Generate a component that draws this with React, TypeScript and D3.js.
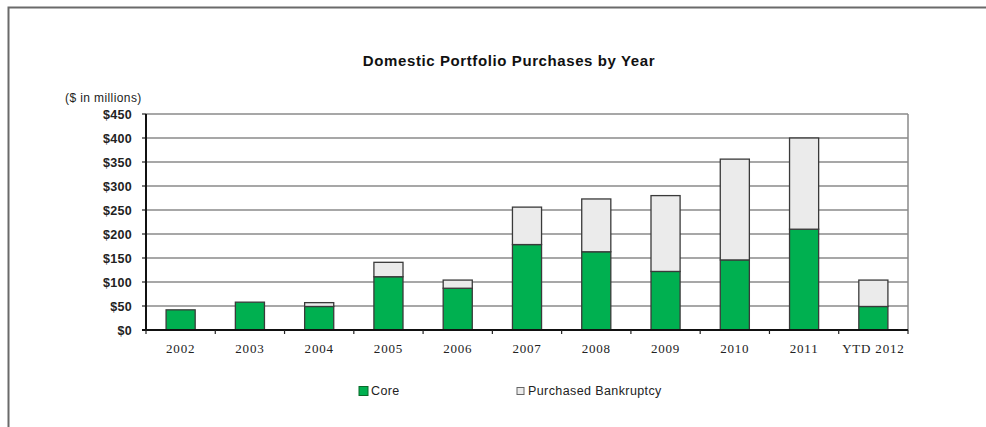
import React from "react";
import * as d3 from "d3";

const categories = ["2002", "2003", "2004", "2005", "2006", "2007", "2008", "2009", "2010", "2011", "YTD 2012"];
const coreValues = [42, 58, 49, 111, 87, 178, 163, 122, 146, 210, 49];
const bankruptcyValues = [0, 0, 8, 30, 17, 78, 110, 158, 210, 190, 55];
const yTicks = [0, 50, 100, 150, 200, 250, 300, 350, 400, 450];
const seriesNames = ["Core", "Purchased Bankruptcy"];
const seriesColors = ["#00b050", "#ebebeb"];

const W = 986;
const H = 427;
const plot = { left: 146, right: 908, top: 114, bottom: 330 };
const sans = "Liberation Sans, Arial, sans-serif";

export default function App() {
  const x = d3.scaleBand<string>().domain(categories).range([plot.left, plot.right]).paddingInner(0.58).paddingOuter(0.29);
  const y = d3.scaleLinear().domain([0, 450]).range([plot.bottom, plot.top]);
  const band = d3.scaleBand<string>().domain(categories).range([plot.left, plot.right]);

  const rows = categories.map((c, i) => ({ cat: c, core: coreValues[i], pb: bankruptcyValues[i] }));
  const stack = d3.stack<any>().keys(["core", "pb"])(rows);

  return (
    <div style={{ position: "absolute", left: 0, top: 0 }}>
      <svg width={W} height={H} style={{ display: "block", background: "#fff" }}>
        <rect x={8.5} y={7.5} width={W} height={H} fill="#fff" stroke="#6a6a6a" strokeWidth={2} />
        <text x={509} y={66} textAnchor="middle" fontFamily={sans} fontWeight="bold" fontSize={15} letterSpacing={0.6} fill="#111">
          Domestic Portfolio Purchases by Year
        </text>
        <text x={65} y={101.5} fontFamily={sans} fontSize={12} letterSpacing={0.4} fill="#222">
          ($ in millions)
        </text>
        {yTicks.map((t) => (
          <g key={t}>
            {t > 0 && (
              <line x1={plot.left} x2={plot.right} y1={y(t)} y2={y(t)} stroke="#8a8a8a" strokeWidth={1.5} />
            )}
            <line x1={plot.left - 4} x2={plot.left} y1={y(t)} y2={y(t)} stroke="#222" strokeWidth={1.2} />
            <text x={plot.left - 14} y={y(t) + 4.5} textAnchor="end" fontFamily={sans} fontWeight="bold" fontSize={12.5} letterSpacing={0.3} fill="#222">
              {"$" + t}
            </text>
          </g>
        ))}
        <line x1={plot.right} x2={plot.right} y1={plot.top} y2={plot.bottom} stroke="#8a8a8a" strokeWidth={1.5} />
        {stack.map((s, si) =>
          s.map((d, i) => {
            const h = y(d[0]) - y(d[1]);
            if (h <= 0) return null;
            return (
              <rect
                key={si + "-" + i}
                x={x(categories[i])}
                y={y(d[1])}
                width={x.bandwidth()}
                height={h}
                fill={seriesColors[si]}
                stroke="#3a3a3a"
                strokeWidth={1.3}
              />
            );
          })
        )}
        <line x1={plot.left} x2={plot.left} y1={plot.top} y2={plot.bottom} stroke="#111" strokeWidth={2} />
        <line x1={plot.left - 4} x2={plot.right} y1={plot.bottom} y2={plot.bottom} stroke="#111" strokeWidth={2} />
        {categories.map((c) => (
          <g key={c}>
            <line x1={band(c)!} x2={band(c)!} y1={plot.bottom} y2={plot.bottom + 4} stroke="#222" strokeWidth={1.2} />
            <text x={band(c)! + band.bandwidth() / 2} y={352.5} textAnchor="middle" fontFamily="Liberation Serif, Times New Roman, serif" fontSize={13} letterSpacing={0.8} fill="#222">
              {c}
            </text>
          </g>
        ))}
        <line x1={plot.right} x2={plot.right} y1={plot.bottom} y2={plot.bottom + 4} stroke="#222" strokeWidth={1.2} />
        {seriesNames.map((n, i) => {
          const lx = i === 0 ? 359 : 517;
          const sz = i === 0 ? 9 : 7;
          return (
            <g key={n}>
              <rect x={lx} y={391 - sz / 2} width={sz} height={sz} fill={seriesColors[i]} stroke={i === 0 ? "#0a6a2a" : "#666"} strokeWidth={1} />
              <text x={i === 0 ? 371 : 528} y={395} fontFamily={sans} fontSize={12.5} letterSpacing={0.4} fill="#222">
                {n}
              </text>
            </g>
          );
        })}
      </svg>
    </div>
  );
}
